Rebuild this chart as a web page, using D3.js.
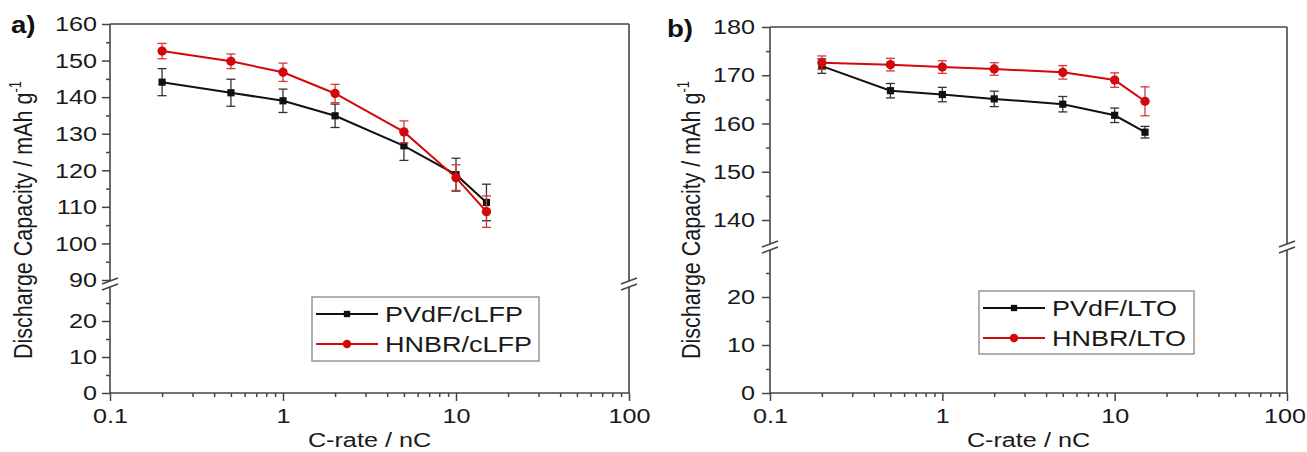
<!DOCTYPE html>
<html>
<head>
<meta charset="utf-8">
<script src="https://cdn.jsdelivr.net/npm/d3@7"></script>
<style>
  body { margin: 0; background: #fff; }
  svg { display: block; font-family: "Liberation Sans", Arial, sans-serif; }
</style>
</head>
<body>
<svg id="chart" width="1307" height="452"></svg>
<script>
// C-rates used in both panels
const cRates = [0.2, 0.5, 1, 2, 5, 10, 15];

// panel a) cLFP cathodes
const pvdfLfp    = [144.1, 141.2, 139.0, 134.9, 126.7, 118.8, 111.2];
const pvdfLfpErr = [3.7, 3.7, 3.2, 3.2, 4.0, 4.5, 5.0];
const hnbrLfp    = [152.6, 149.8, 146.8, 141.0, 130.5, 118.0, 108.7];
const hnbrLfpErr = [2.1, 2.0, 2.5, 2.5, 3.0, 3.5, 4.3];

// panel b) LTO anodes
const pvdfLto    = [171.9, 166.8, 166.0, 165.1, 164.0, 161.7, 158.2];
const pvdfLtoErr = [1.5, 1.5, 1.5, 1.6, 1.6, 1.5, 1.2];
const hnbrLto    = [172.6, 172.2, 171.7, 171.3, 170.6, 169.0, 164.6];
const hnbrLtoErr = [1.4, 1.3, 1.3, 1.3, 1.4, 1.5, 3.0];

// ticks
const xMajorTicks = [0.1, 1, 10, 100];
const xMinorTicks = [0.2,0.3,0.4,0.5,0.6,0.7,0.8,0.9, 2,3,4,5,6,7,8,9, 20,30,40,50,60,70,80,90];
const lowerMajorTicks = [0, 10, 20];
const lowerMinorTicks = [5, 15, 25];
const upperMajorA = [90, 100, 110, 120, 130, 140, 150, 160];
const upperMinorA = [95, 105, 115, 125, 135, 145, 155];
const upperMajorB = [140, 150, 160, 170, 180];
const upperMinorB = [145, 155, 165, 175];

const SX = 1.2; // the source figure is horizontally stretched
const BLACK = '#111';
const RED = '#d2080c';
const FRAME = '#444';
const W = 1307;

const svg = d3.select('#chart');

const stretch = (sel) => sel.attr('transform', function () {
    const x = +this.getAttribute('x') || 0;
    this.setAttribute('x', x / SX);
    return `scale(${SX},1)`;
});

const drawPanel = (cfg) => {
    const g = svg.append('g');
    const x = d3.scaleLog().domain([0.1, 100]).range([cfg.left, cfg.right]);
    const yUp = d3.scaleLinear().domain(cfg.upDomain).range(cfg.upRange);
    const yLo = d3.scaleLinear().domain([0, 20]).range(cfg.loRange);

    // frame with axis break
    const yb = cfg.breakY;
    const frame = g.append('g').attr('stroke', FRAME).attr('stroke-width', 1.6).attr('fill', 'none');
    [cfg.left, cfg.right].forEach(xx => {
        frame.append('line').attr('x1', xx).attr('x2', xx).attr('y1', cfg.top).attr('y2', yb - 3);
        frame.append('line').attr('x1', xx).attr('x2', xx).attr('y1', yb + 3).attr('y2', cfg.bottom);
        frame.append('line').attr('x1', xx - 8).attr('x2', xx + 8).attr('y1', yb).attr('y2', yb - 6);
        frame.append('line').attr('x1', xx - 8).attr('x2', xx + 8).attr('y1', yb + 6).attr('y2', yb);
    });
    frame.append('line').attr('x1', cfg.left).attr('x2', cfg.right).attr('y1', cfg.top).attr('y2', cfg.top);
    frame.append('line').attr('x1', cfg.left).attr('x2', cfg.right).attr('y1', cfg.bottom).attr('y2', cfg.bottom);

    const styleAxis = (ax) => {
        ax.select('.domain').remove();
        ax.selectAll('line').attr('stroke', FRAME).attr('stroke-width', 1.5);
        ax.selectAll('text').attr('font-size', 21).attr('fill', '#1a1a1a').call(stretch);
    };

    // x axis
    const xAx = g.append('g').attr('transform', `translate(0,${cfg.bottom})`)
        .call(d3.axisBottom(x).tickValues(xMajorTicks).tickSize(8).tickPadding(7).tickFormat(d3.format('~g')))
        .call(styleAxis);
    // keep the last label inside the page
    xAx.selectAll('text').each(function () {
        const r = this.getBoundingClientRect();
        if (r.right > W - 1) {
            const x0 = +this.getAttribute('x');
            this.setAttribute('x', x0 - (r.right - (W - 1)) / SX);
        }
    });
    g.append('g').attr('transform', `translate(0,${cfg.bottom})`)
        .call(d3.axisBottom(x).tickValues(xMinorTicks).tickSize(4).tickFormat(''))
        .call(styleAxis);

    // y axes, two segments
    const yAxis = (scale, major, minor) => {
        g.append('g').attr('transform', `translate(${cfg.left},0)`)
            .call(d3.axisLeft(scale).tickValues(major).tickSize(8).tickPadding(cfg.yPad))
            .call(styleAxis);
        g.append('g').attr('transform', `translate(${cfg.left},0)`)
            .call(d3.axisLeft(scale).tickValues(minor).tickSize(4).tickFormat(''))
            .call(styleAxis);
    };
    yAxis(yUp, cfg.upMajor, cfg.upMinor);
    yAxis(yLo, lowerMajorTicks, lowerMinorTicks);

    // series
    cfg.series.forEach(s => {
        const pts = cRates.map((c, i) => ({ c, v: s.values[i], e: s.errors[i] }));
        const sg = g.append('g');
        sg.selectAll('g.err').data(pts).join('g').attr('class', 'err')
            .attr('stroke', s.errColor).attr('stroke-width', 1.3)
            .each(function (d) {
                const eg = d3.select(this);
                const cx = x(d.c);
                eg.append('line').attr('x1', cx).attr('x2', cx).attr('y1', yUp(d.v - d.e)).attr('y2', yUp(d.v + d.e));
                eg.append('line').attr('x1', cx - 4.5).attr('x2', cx + 4.5).attr('y1', yUp(d.v - d.e)).attr('y2', yUp(d.v - d.e));
                eg.append('line').attr('x1', cx - 4.5).attr('x2', cx + 4.5).attr('y1', yUp(d.v + d.e)).attr('y2', yUp(d.v + d.e));
            });
        sg.append('path').datum(pts)
            .attr('fill', 'none').attr('stroke', s.color).attr('stroke-width', 2)
            .attr('d', d3.line().x(d => x(d.c)).y(d => yUp(d.v)));
        const sym = d3.symbol().type(s.shape).size(s.shape === d3.symbolSquare ? 52 : 68);
        sg.selectAll('path.mk').data(pts).join('path').attr('class', 'mk')
            .attr('transform', d => `translate(${x(d.c)},${yUp(d.v)})`)
            .attr('d', sym).attr('fill', s.color);
    });

    // legend
    const lg = g.append('g');
    lg.append('rect').attr('x', cfg.legend.x).attr('y', cfg.legend.y)
        .attr('width', cfg.legend.w).attr('height', cfg.legend.h)
        .attr('fill', '#fff').attr('stroke', '#888').attr('stroke-width', 1.3);
    cfg.series.forEach((s, i) => {
        const ly = cfg.legend.y + 17 + i * 30;
        const lx = cfg.legend.x + 4;
        lg.append('line').attr('x1', lx).attr('x2', lx + 62).attr('y1', ly).attr('y2', ly)
            .attr('stroke', s.color).attr('stroke-width', 2);
        lg.append('path').attr('transform', `translate(${lx + 31},${ly})`)
            .attr('d', d3.symbol().type(s.shape).size(s.shape === d3.symbolSquare ? 40 : 56)).attr('fill', s.color);
        lg.append('text').attr('x', lx + 69).attr('y', ly).attr('dy', '0.36em')
            .attr('font-size', 22.5).attr('fill', '#1a1a1a').text(s.name).call(stretch);
    });

    // axis titles
    g.append('text').attr('x', (cfg.left + cfg.right) / 2).attr('y', 447)
        .attr('text-anchor', 'middle').attr('font-size', 21).attr('fill', '#1a1a1a')
        .text('C-rate / nC').call(stretch);
    const yt = g.append('text')
        .attr('transform', `translate(${cfg.yTitleX},220) rotate(-90) scale(1,${SX})`)
        .attr('text-anchor', 'middle').attr('font-size', 21.5).attr('fill', '#1a1a1a');
    yt.append('tspan').text('Discharge Capacity / mAh g');
    yt.append('tspan').attr('font-size', 13).attr('dy', -9).text('-1');

    g.append('text').attr('x', cfg.tag.x).attr('y', cfg.tag.y)
        .attr('font-size', 23).attr('font-weight', 'bold').attr('fill', '#111')
        .text(cfg.tag.text).call(stretch);
};

drawPanel({
    left: 110, right: 629, top: 24, bottom: 393,
    upDomain: [90, 160], upRange: [280, 24], loRange: [393, 321], breakY: 284,
    upMajor: upperMajorA, upMinor: upperMinorA, yPad: 5,
    yTitleX: 32,
    tag: { x: 11, y: 33, text: 'a)' },
    legend: { x: 312, y: 297, w: 227, h: 64 },
    series: [
        { name: 'PVdF/cLFP', values: pvdfLfp, errors: pvdfLfpErr, color: BLACK, errColor: '#333', shape: d3.symbolSquare },
        { name: 'HNBR/cLFP', values: hnbrLfp, errors: hnbrLfpErr, color: RED, errColor: '#d23a3a', shape: d3.symbolCircle }
    ]
});

drawPanel({
    left: 770, right: 1287, top: 27, bottom: 393,
    upDomain: [140, 180], upRange: [220, 27], loRange: [393, 297], breakY: 247,
    upMajor: upperMajorB, upMinor: upperMinorB, yPad: 7,
    yTitleX: 700,
    tag: { x: 667, y: 37, text: 'b)' },
    legend: { x: 979, y: 291, w: 215, h: 63 },
    series: [
        { name: 'PVdF/LTO', values: pvdfLto, errors: pvdfLtoErr, color: BLACK, errColor: '#333', shape: d3.symbolSquare },
        { name: 'HNBR/LTO', values: hnbrLto, errors: hnbrLtoErr, color: RED, errColor: '#d23a3a', shape: d3.symbolCircle }
    ]
});
</script>
</body>
</html>
